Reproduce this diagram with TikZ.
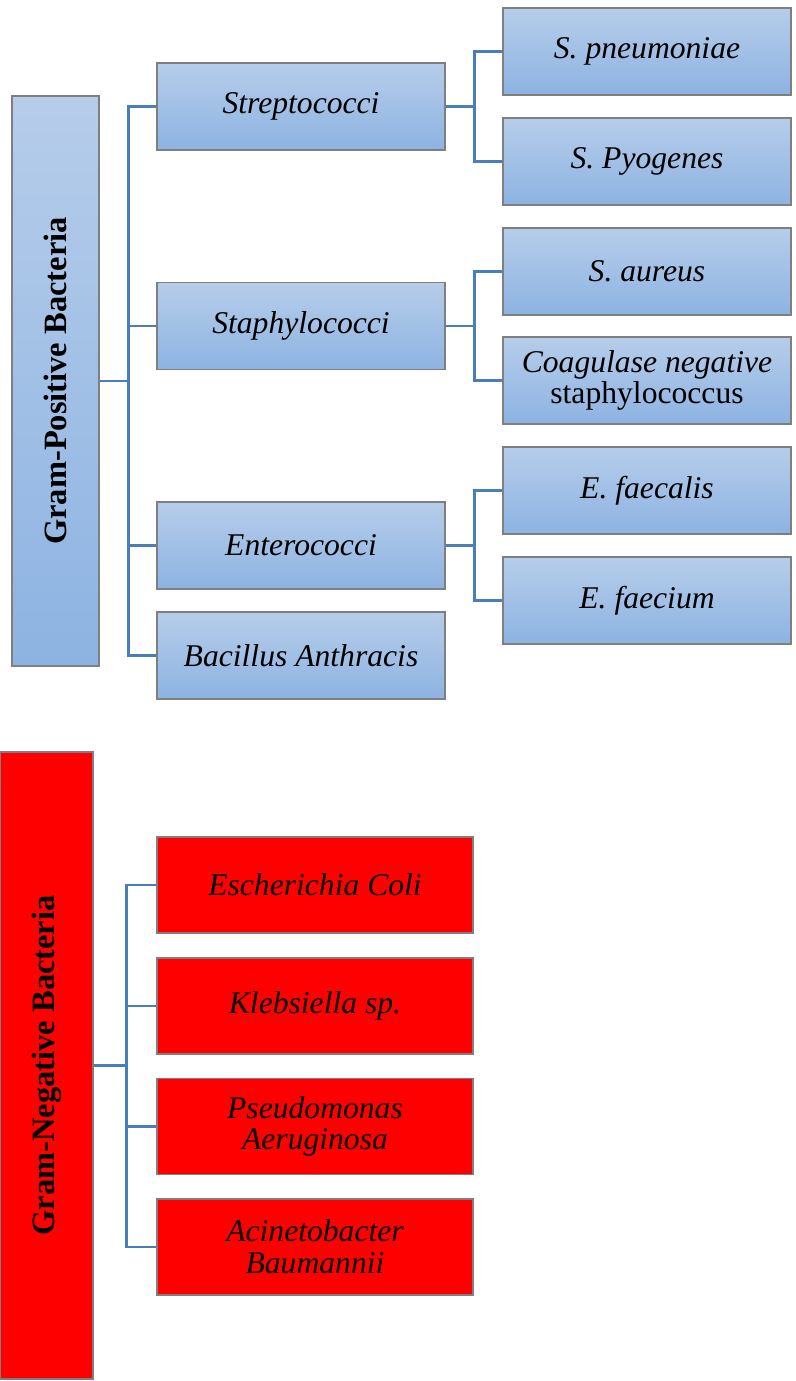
\documentclass[tikz,border=0pt]{standalone}
\usepackage{fontspec}
\setmainfont{Liberation Serif}
\usepackage{tikz}

\definecolor{boxtop}{HTML}{B6CDEA}
\definecolor{boxbot}{HTML}{8DB3E2}
\definecolor{boxline}{HTML}{7F7F7F}
\definecolor{linkblue}{HTML}{4A7EBB}

\tikzset{
  bluebox/.style={rectangle,draw=boxline,line width=0.6pt,top color=boxtop,bottom color=boxbot,
    minimum width=5.76cm,minimum height=1.74cm,inner sep=2pt,align=center,
    font=\fontsize{18}{18}\selectfont\itshape},
  redbox/.style={rectangle,draw=boxline,line width=0.6pt,fill=red,
    minimum width=6.32cm,minimum height=1.92cm,inner sep=2pt,align=center,
    font=\fontsize{18}{18}\selectfont\itshape},
  link/.style={draw=linkblue,line width=1.4pt}
}

\begin{document}
\begin{tikzpicture}
  \useasboundingbox (0,0) rectangle (15.9,-27.62);

  % Gram positive
  \node[bluebox,minimum width=1.74cm,minimum height=11.4cm] (gpos) at (1.11,-7.62) {};
  \node[rotate=90,font=\fontsize{18.5}{18}\selectfont\bfseries] (gposlabel) at (gpos.center) {Gram-Positive Bacteria};

  \node[bluebox] (strep) at (6.02,-2.13) {Streptococci};
  \node[bluebox] (staph) at (6.02,-6.52) {Staphylococci};
  \node[bluebox] (entero) at (6.02,-10.91) {Enterococci};
  \node[bluebox] (bacil) at (6.02,-13.11) {Bacillus Anthracis};

  \node[bluebox] (spneu) at (12.94,-1.03) {S. pneumoniae};
  \node[bluebox] (spyo) at (12.94,-3.23) {S. Pyogenes};
  \node[bluebox] (saur) at (12.94,-5.43) {S. aureus};
  \node[bluebox] (cons) at (12.94,-7.61) {Coagulase negative\\\upshape staphylococcus};
  \node[bluebox] (efaes) at (12.94,-9.81) {E. faecalis};
  \node[bluebox] (efaec) at (12.94,-12.01) {E. faecium};

  \draw[link] (gpos.east) -- ++(0.58,0) |- (strep.west);
  \draw[link] (gpos.east) -- ++(0.58,0) |- (staph.west);
  \draw[link] (gpos.east) -- ++(0.58,0) |- (entero.west);
  \draw[link] (gpos.east) -- ++(0.58,0) |- (bacil.west);

  \draw[link] (strep.east) -- ++(0.58,0) |- (spneu.west);
  \draw[link] (strep.east) -- ++(0.58,0) |- (spyo.west);
  \draw[link] (staph.east) -- ++(0.58,0) |- (saur.west);
  \draw[link] (staph.east) -- ++(0.58,0) |- (cons.west);
  \draw[link] (entero.east) -- ++(0.58,0) |- (efaes.west);
  \draw[link] (entero.east) -- ++(0.58,0) |- (efaec.west);

  % Gram negative
  \node[redbox,minimum width=1.86cm,minimum height=12.54cm] (gneg) at (0.93,-21.31) {};
  \node[rotate=90,font=\fontsize{18.5}{18}\selectfont\bfseries] (gneglabel) at (gneg.center) {Gram-Negative Bacteria};

  \node[redbox] (ecoli) at (6.30,-17.70) {Escherichia Coli};
  \node[redbox] (kleb) at (6.30,-20.12) {Klebsiella sp.};
  \node[redbox] (pseudo) at (6.30,-22.53) {Pseudomonas\\Aeruginosa};
  \node[redbox] (acin) at (6.30,-24.94) {Acinetobacter\\Baumannii};

  \draw[link] (gneg.east) -- ++(0.66,0) |- (ecoli.west);
  \draw[link] (gneg.east) -- ++(0.66,0) |- (kleb.west);
  \draw[link] (gneg.east) -- ++(0.66,0) |- (pseudo.west);
  \draw[link] (gneg.east) -- ++(0.66,0) |- (acin.west);
\end{tikzpicture}
\end{document}
